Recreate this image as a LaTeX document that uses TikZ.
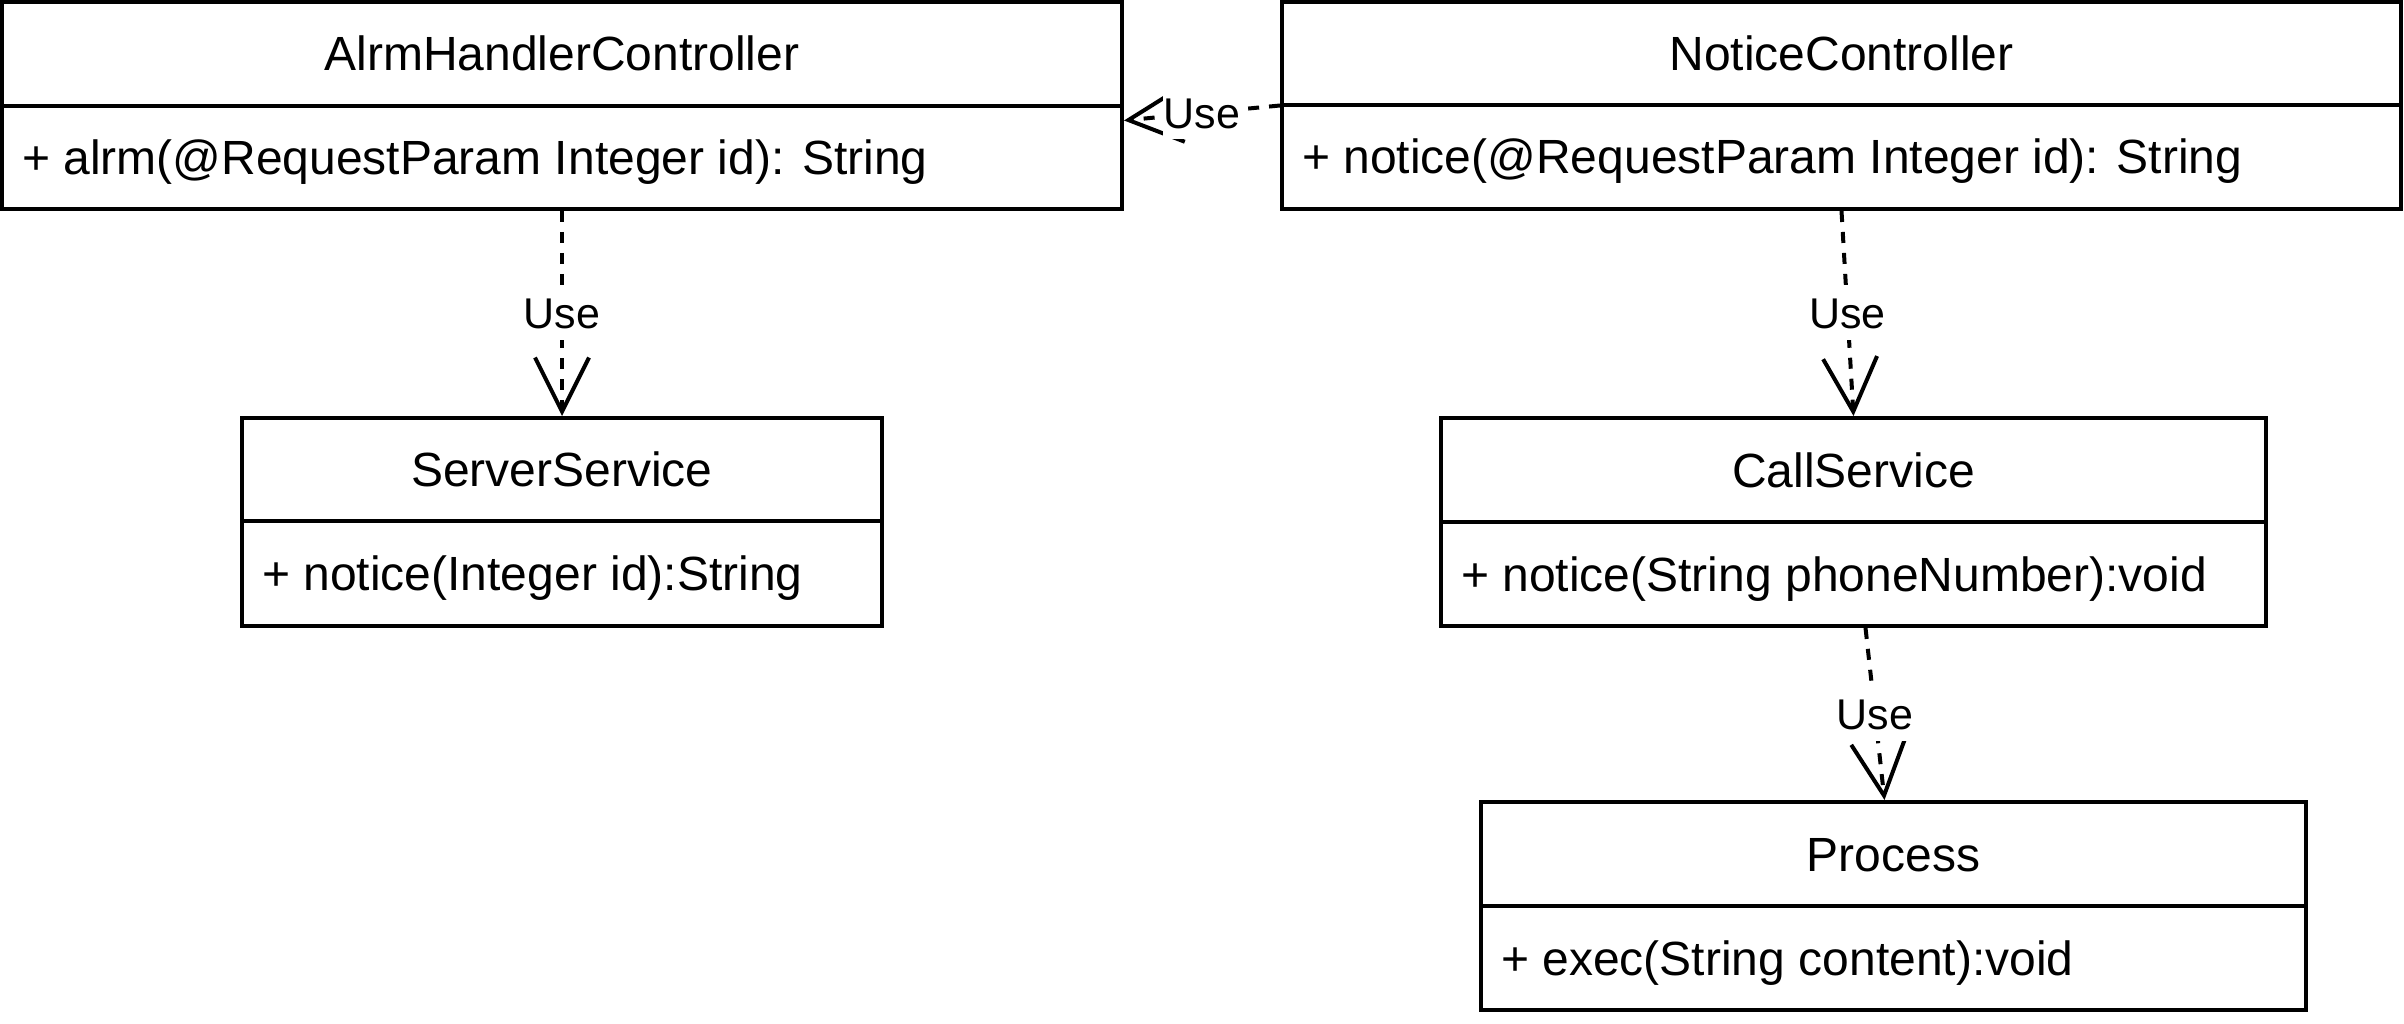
\documentclass[tikz,border=0pt]{standalone}
\usepackage{fontspec}
\setmainfont{Liberation Sans}
\usetikzlibrary{arrows.meta,fit}

\tikzset{
  classbox/.style={draw=black, line width=4pt, fill=white, inner sep=0pt},
  divider/.style={draw=black, line width=4pt},
  classtext/.style={font=\fontsize{48}{58}\selectfont, inner sep=0pt,
    text height=43pt, text depth=9pt},
  usage/.style={draw=black, line width=4pt, dash pattern=on 11pt off 10pt,
    -{Straight Barb[length=54pt, width=54pt]}},
  uselabel/.style={font=\fontsize{43}{50}\selectfont, fill=white,
    inner xsep=1pt, inner ysep=0pt, text height=42pt, text depth=11pt},
}

% UML class box: name, x1, y1, x2, y2, y of divider, title, member
\newcommand\umlclass[8]{%
  \pgfmathsetmacro\clsMidX{(#2+#4)/2}%
  \pgfmathsetmacro\clsTitleY{(#3+#6)/2}%
  \pgfmathsetmacro\clsMemberY{(#6+#5)/2}%
  \pgfmathsetmacro\clsMemberX{#2+20}%
  \node[classbox, fit={(#2,#3) (#4,#5)}] (#1) {};
  \draw[divider] (#2,#6) -- (#4,#6);
  \node[classtext] (#1-title) at (\clsMidX,\clsTitleY) {#7};
  \node[classtext, anchor=west] (#1-member) at (\clsMemberX,\clsMemberY) {#8};
}

\begin{document}
\begin{tikzpicture}[x=1pt, y=-1pt]
  \useasboundingbox (0,0) rectangle (2404,1024);

  \umlclass{alrm}{2}{2}{1122}{209}{106}{AlrmHandlerController}{+ alrm(@RequestParam Integer id): String}
  \umlclass{notice}{1282}{2}{2401}{209}{105}{NoticeController}{+ notice(@RequestParam Integer id): String}
  \umlclass{server}{242}{418}{882}{626}{521}{ServerService}{+ notice(Integer id):String}
  \umlclass{call}{1441}{418}{2266}{626}{522}{CallService}{+ notice(String phoneNumber):void}
  \umlclass{process}{1481}{802}{2306}{1010}{906}{Process}{+ exec(String content):void}

  % dependencies
  \draw[usage] (alrm.south) -- node[uselabel] (u1) {Use} (server.north);
  \draw[usage] (notice.south) -- node[uselabel] (u2) {Use} (call.north);
  \draw[usage] ([xshift=12pt]call.south) -- node[uselabel] (u3) {Use} ([xshift=-9pt]process.north);
  \draw[usage] (notice.west) -- node[uselabel] (u4) {Use} ([yshift=-15pt]alrm.east);
\end{tikzpicture}
\end{document}
